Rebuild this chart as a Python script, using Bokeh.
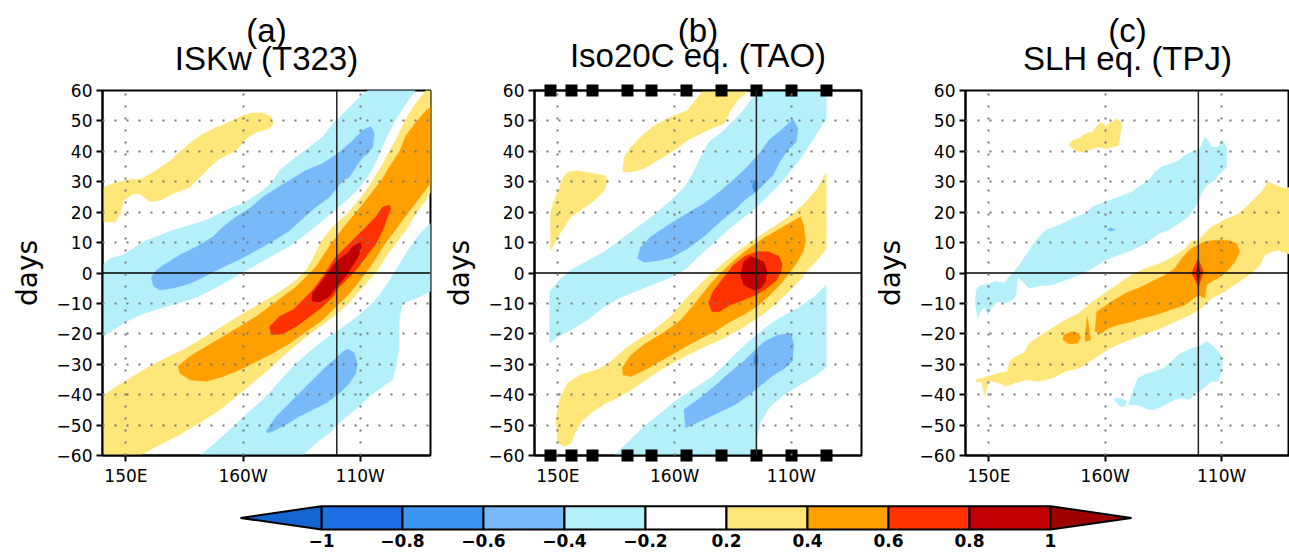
from bokeh.plotting import figure
from bokeh.layouts import row, column
from bokeh.models import Span, FixedTicker, LinearAxis, Range1d, Title
from bokeh.core.properties import value
from bokeh.embed import file_html
from bokeh.resources import INLINE

# ---------------------------------------------------------------- data
LAG_TICKS = [-60, -50, -40, -30, -20, -10, 0, 10, 20, 30, 40, 50, 60]
LON_TICKS = [150, 200, 250]
LON_LABELS = ["150E", "160W", "110W"]
CB_BOUNDS = [-1, -0.8, -0.6, -0.4, -0.2, 0.2, 0.4, 0.6, 0.8, 1]
CB_LABELS = ["\u22121", "\u22120.8", "\u22120.6", "\u22120.4", "\u22120.2", "0.2", "0.4", "0.6", "0.8", "1"]
CB_COLORS = ["#1e6ee6", "#3c96f0", "#78b9fa", "#b4f0fa", "#ffffff",
             "#ffe678", "#ffa000", "#ff3200", "#c00000"]
CB_LOW = "#1464d2"
CB_HIGH = "#a00000"
TAO_LONS = [147, 156, 165, 180, 190, 205, 220, 235, 250, 265]
LETTERS = ["(a)", "(b)", "(c)"]
TITLES = ["ISKw (T323)", "Iso20C eq. (TAO)", "SLH eq. (TPJ)"]
REF_LONS = [240, 235, 240]

# filled-contour regions (lon, lag); band index -> CB_COLORS
A_CYAN_UP = [(140,-21),(140,2.6),(143.3,4.8),(148.9,5.9),(153.2,8.1),(157.4,10.3),(163.1,11.9),(170.2,14.1),(177.3,15.7),(184.4,17.4),(191.5,20.1),(195.7,21.7),(200,22.8),(204.3,25),(208.5,27.2),(212.5,30),(215.6,33.8),(222.7,38.1),(228.4,41.4),(234,44.7),(238.3,49.1),(244,53.4),(248.2,56.7),(252.5,59.5),(253.2,60),(273.5,60),(271,57.3),(268.1,54),(264.5,49.6),(261,44.2),(258.5,39.8),(256,35.4),(252.5,31),(249,27.5),(245,24.5),(240.5,21.5),(235,18),(228,13.5),(220,9),(212,5.5),(204,2),(196,-1.5),(188,-5),(180,-8),(172,-10),(165,-11.5),(157,-13.5),(150,-16),(145,-18.5)]
A_BLUE_UP = [(161,-1.2),(161,-2.3),(162,-4.5),(164.5,-5.6),(170,-5),(177,-3.5),(184,-1),(191.5,2),(198.6,4.5),(205.7,7.5),(212.8,10.5),(219.9,14),(225.5,18),(231,21.7),(236.9,25),(240,28),(242.6,30.5),(245.4,31.6),(248.2,34.9),(251.1,38.1),(253.2,39.2),(255.3,41.4),(256,45.8),(254.6,48.2),(251.1,46.9),(246.8,43.6),(240.4,39.2),(234,36),(226.9,33.8),(219.9,30.5),(214.2,27.8),(208.5,25),(202.8,21.2),(197.2,18.5),(191.5,15.2),(187.2,11.9),(180.1,8.6),(173,5.9),(167.4,3.2),(163.1,1)]
A_CYAN_LOW = [(181.6,-60),(188,-56),(195,-51),(202,-46),(208,-42),(213,-38),(218,-33.5),(223,-29.5),(229,-25.5),(234.5,-22),(239.7,-19.5),(245,-16.5),(250,-13.5),(254.5,-10.5),(258,-7.5),(262,-3),(266,2),(270,7),(274,11.5),(277.5,14.5),(280,16.3),(280,-6),(275,-8),(268,-10),(266.7,-15),(266.5,-25),(265.2,-30.7),(263.8,-35.1),(259.6,-37.3),(253.9,-40.6),(249.6,-43.8),(242.6,-48.2),(236.9,-52.6),(231.2,-55.8),(225.5,-60)]
A_BLUE_LOW = [(209.9,-52),(214.2,-47.1),(219.9,-42.7),(225.5,-38.4),(231.2,-34),(235.5,-30.7),(239.7,-28),(242.6,-25.8),(244.7,-25),(247.5,-26.3),(248.7,-29.6),(248.2,-32.9),(245.4,-36.2),(241.1,-39.5),(235.5,-42.7),(229.8,-44.9),(224.1,-47.1),(218.4,-49.8),(212.8,-52),(210.6,-52.6)]
A_YEL_UL = [(140,16.8),(140,28),(145,29.5),(150,30.5),(157,31),(163,33.8),(169,37),(173,39.8),(177,42.5),(183,45.8),(189,48),(194,49.6),(200,51.8),(204,52.6),(208.5,52.6),(212,51.3),(212.8,49),(211,47.4),(205.7,46.3),(201.4,44.2),(198,41),(194.3,39.2),(190,37.6),(185.8,34.9),(181.6,31.6),(177.3,28.3),(170.2,26.1),(164.5,23.9),(160.3,23.4),(156,26),(153,26),(149,23.9),(147.5,19.6),(145.4,16.8)]
A_YEL_POS = [(140,-60),(140,-40.5),(146,-37.3),(153,-34),(160,-30.7),(167,-28),(174.5,-25.2),(181.6,-22),(188.7,-18.7),(195.7,-15.4),(202.8,-12.1),(209.9,-8.9),(217,-5.6),(222.7,-2.3),(227,1),(230,5),(233,10),(238,15),(245,20),(250.5,25),(255,30),(259,35),(262.5,40),(266,45),(269,50),(273,55),(277,58.9),(278,60),(280,60),(280,26.5),(278,23.9),(273.8,19.6),(269.5,14.1),(265.2,9.7),(261,5.4),(257.5,1),(253.5,-2.5),(249,-6.5),(245,-10),(240,-13.5),(233,-17.5),(226,-21.5),(219,-26),(212,-31),(205,-35.5),(198,-40),(190,-45),(181,-49.5),(172,-53.5),(163,-57),(156,-60)]
A_ORANGE = [(172.3,-30.7),(177.3,-27.4),(184.4,-24.2),(191.5,-20.9),(198.6,-17.6),(205.7,-14.3),(211.3,-11),(217,-7.8),(222.7,-4.5),(227,-1.2),(231.2,2.1),(234,5.4),(237,9),(243.5,15.5),(250,21.5),(255,26.5),(259.5,31),(263,35.5),(266.7,39.8),(269.5,45.2),(273.8,49.6),(278.1,53.4),(280,54.5),(280,29),(279.4,28.9),(276.6,26.1),(272.3,21.7),(268.1,17.4),(263.8,13),(259.6,8.6),(255.3,3.2),(251.1,-1.2),(245.4,-6.7),(239.7,-11),(234,-15.4),(227,-19.2),(219.9,-23.1),(212.8,-26.3),(205.7,-29.1),(198.6,-31.8),(191.5,-34),(184.4,-35.6),(177.3,-35.1),(173,-32.9)]
A_RED = [(211.3,-17.6),(215.6,-14.3),(221.3,-12.1),(225.5,-8.9),(229.8,-5.6),(234,-1.2),(236.9,2.1),(239.7,5.4),(244,8.6),(248.2,11.9),(252.5,15.2),(256.7,18.5),(259.6,21.7),(262.4,22.3),(263,21),(261.7,18.5),(259.6,14.1),(256.7,9.7),(252.5,5.4),(248.2,1),(244,-2.3),(241.1,-4.5),(238.3,-7.8),(234,-11),(228.4,-14.3),(222.7,-17.6),(217,-20),(212.1,-20.3)]
A_DRED = [(229.5,-6.7),(233.8,-2.5),(238,2),(240.5,4.3),(244.5,6.4),(247,8.8),(250,10),(250.5,8.6),(249.2,5.4),(246.5,2.1),(243.6,-1.2),(240,-4.5),(236.7,-7.8),(232.6,-9.6),(229.5,-9.2)]

B_YEL_UL = [(146.8,7.5),(146.8,19.6),(148.5,23.9),(150.5,28),(152.5,31.5),(154.2,33.2),(158.5,33.6),(164.2,32.9),(169.9,32.1),(171.3,30.5),(169.9,27.2),(165.6,23.9),(159.9,20.7),(155.6,18.5),(152.8,15.2),(150,11.9),(147.8,8.6)]
B_YEL_TOP = [(177.7,33.8),(178.4,38.1),(181.3,41.4),(185.5,44.7),(190.5,48),(198.3,51.3),(205.4,53.4),(211.1,58.9),(212.5,60),(231.7,60),(226.8,56.7),(223.9,53.4),(221.1,49.1),(215.4,47.4),(211.1,45.8),(205.4,43.6),(199.7,40.3),(192.6,37),(186.9,34.3),(181.3,33.2),(178.4,33.2)]
B_CYAN_UP = [(146.5,-23.1),(146.5,-6.1),(150.7,-2.3),(155.6,1),(162.8,4),(170,7),(177,11),(184,15),(191,19),(198,23.5),(204,28),(208,33),(211.1,38),(214.7,43.1),(220.3,46.3),(224.6,49.6),(228.9,52.9),(233.1,57.3),(237.4,60),(264.9,60),(264.9,50.7),(259.5,44.2),(253.8,37.5),(249.6,33.5),(245.3,29.5),(239.6,25),(233.9,21),(228.2,17.5),(222.6,14),(216.9,10),(211,6),(205,1.5),(198.3,-1.5),(191.2,-3.6),(184.1,-5.8),(177,-8),(169.9,-11),(162.8,-15.4),(155.6,-18.7),(150,-20.9)]
B_BLUE_UP = [(184.1,4.8),(187,3.5),(192.6,4),(198.3,5),(205.4,8),(212.5,12),(219.7,17),(226.8,21.5),(230.7,24.5),(235,26.7),(237.8,28.9),(242.1,32.1),(244.9,36.5),(247.8,39.8),(252,43.1),(252.8,47.4),(250.6,50.7),(246.4,47.4),(240.7,44),(236.5,39.5),(230.7,34.5),(225,30.5),(219.7,27),(212.5,22.8),(205.4,19.6),(198.3,16.3),(189.8,11.9),(185.5,8.6)]
B_DBLUE_UP = [(233.3,28.5),(234,26.8),(235.2,27),(235.6,28.8),(235,30.6),(233.8,30.3)]
B_CYAN_LOW = [(174.1,-60),(179.8,-55.8),(186.9,-50.4),(194.1,-46),(201.2,-41.6),(209.7,-37.3),(215.4,-34.5),(221.1,-30.5),(226.8,-26),(232.5,-22),(238.2,-18.5),(242.4,-16),(248.1,-13.5),(253.8,-11),(259.5,-8),(264.9,-4),(264.9,-31),(260.9,-33.4),(253.8,-36.7),(246.8,-40),(241,-43.8),(236.7,-49),(235.3,-54),(235,-60)]
B_BLUE_LOW = [(204,-44.9),(211.1,-41),(218.2,-36.5),(224,-32.5),(229.6,-29),(233.9,-25.8),(238.2,-22.7),(243.9,-20.5),(249.6,-19.8),(251,-23.4),(250.3,-29),(246.8,-31.5),(242.4,-33.5),(236.8,-37),(231.1,-40.5),(225.4,-43.5),(219.7,-45.5),(212.5,-48.2),(204.7,-50.9)]
B_DBLUE_LOW = [(233.8,-28.5),(234.5,-26.6),(235.6,-27),(235.7,-29.5),(234.8,-30.6),(234,-30)]
B_YEL_POS = [(150,-55.8),(149.2,-48.2),(150.7,-41.6),(154.2,-36.2),(159.9,-33.4),(167,-31.8),(172.7,-29.1),(178.4,-25.2),(184.1,-22),(191.2,-18.7),(198.3,-14.3),(205.4,-8),(212.5,-2.5),(219.7,2.5),(226.8,7),(233.9,11),(241,14.5),(248.1,18),(255.2,22.5),(260.9,27.5),(264.9,33),(264.9,8),(260.9,4),(257.5,1.5),(253.5,-2.5),(249,-6),(243.5,-10),(237,-14),(230,-17.5),(222,-21),(215,-23.5),(211.1,-24.8),(204,-27.5),(198.3,-30),(192.6,-32.5),(186.9,-35.5),(181.3,-38.5),(175.6,-41),(169.9,-43),(164.2,-46),(159.9,-49),(157.1,-53),(155.6,-56),(152.8,-57)]
B_ORANGE = [(177.7,-31),(181.3,-27),(186.9,-23.5),(195.5,-19.5),(202.6,-15.5),(209.7,-9),(215.4,-3.5),(221.1,1),(226.8,5),(232.5,8.5),(238.2,11.5),(243.8,14),(249.5,16.5),(253.8,18.5),(255.2,15.7),(256,10.3),(255,7),(252.5,3.7),(249.5,0.4),(245.5,-3.5),(241,-7),(236,-10.5),(230,-13.5),(222.5,-16.5),(216.8,-19.5),(211.1,-21.5),(204,-24.5),(198.3,-27),(192.6,-29.5),(186.9,-32),(181.3,-34),(178,-33.5)]
B_RED = [(214.5,-9.7),(216.5,-6),(220.5,-2),(225,2.5),(230,5.5),(235.3,7),(240,7),(244.5,5.5),(246,3),(245.5,0.5),(243.5,-2.5),(239,-5.3),(234,-7.5),(228,-9.3),(223,-10.8),(219,-12.7),(216,-12.7)]
B_DRED = [(232.5,5.4),(238.2,3.7),(239.6,0.4),(238.9,-2.8),(236.8,-5),(233.9,-5.6),(229.6,-3.9),(228.2,-0.7),(229.6,3.7)]

C_YEL_BLOB = [(184.4,42),(185.9,43.6),(188.7,44.2),(191.6,45.8),(194.4,46.3),(197.3,49.1),(198.7,49.6),(200.1,48),(201.5,49.1),(205.1,50.7),(207.2,49.3),(206.5,45.8),(205.8,42),(203,41.4),(200.1,40.9),(197.3,41.4),(194.4,40.9),(191.6,39.8),(188.7,39.8),(185.9,40.9)]
C_CYAN_UP = [(144.6,-5.6),(146,-4.3),(149.5,-3.6),(153.1,-2.8),(156.7,-3.4),(158.8,-1.2),(160.9,0.4),(163.1,2.6),(166,5.9),(168.8,9.2),(171.6,11.9),(174.5,14.1),(180.2,15.7),(185.9,17.9),(191.6,19.6),(194.4,21.7),(200.1,23.4),(205.8,25),(211.5,26.7),(214.4,28.3),(218.6,30.5),(221.5,33.2),(224.3,34.9),(228.6,36),(231.5,37),(234.3,38.7),(237.2,39.8),(240.7,40.9),(242.8,44.7),(244.3,43.6),(245.7,41.4),(248.5,41.4),(250,43.6),(251.4,42.5),(252.1,41.4),(252.1,34.9),(250,33.2),(248.5,32.1),(247.1,30.5),(245.7,29.9),(243.6,28.9),(242.1,27.2),(240.7,25),(238.6,21.7),(235.7,18.5),(231.5,16.3),(227.2,14.1),(222.9,13),(217.2,9.7),(211.5,7.5),(205.8,5.9),(200.1,4.3),(194.4,1.5),(188.7,-0.7),(183,-2.3),(177.3,-3.9),(171.6,-4.3),(167.4,-5),(163.8,-2.3),(162.4,-1.2),(161.7,-7.2),(160.2,-8.9),(156.7,-9.9),(153.8,-9.4),(151,-11.6),(149.5,-13.8),(148.1,-11),(146,-13.2),(145.3,-14.9),(144.2,-10)]
C_BLUE_DOT = [(200.8,14.3),(202.5,14.9),(204.4,14.3),(202.5,13.7)]
C_CYAN_LOW = [(209.9,-43.3),(212.8,-36.7),(214.2,-34.5),(217.1,-33.4),(221.4,-32.3),(225,-31.3),(228.5,-29.1),(231.4,-26.9),(234.2,-25.8),(237.1,-24.7),(240,-24.2),(241.4,-23.6),(243.5,-22.5),(245.6,-23.6),(248.5,-25.8),(250.6,-28),(249.9,-32.3),(248.5,-35.6),(245.6,-35.6),(241.4,-38.4),(238.5,-39.5),(236.4,-41.6),(232.8,-41.1),(230,-41.6),(227.1,-42.7),(224.2,-43.8),(221.4,-44.9),(218.5,-44.9),(215.6,-43.8),(212.8,-43.3)]
C_CYAN_BIT = [(203.5,-41.6),(205.6,-41.1),(209.2,-42),(208.5,-43.8),(206.4,-43.8)]
C_YEL_POS = [(144.6,-35.8),(144.6,-35.1),(147.4,-34.5),(154.5,-32.9),(158.1,-32.3),(158.8,-29.1),(161.7,-27.4),(165.2,-26.3),(167.4,-23.1),(171.6,-20.9),(177.3,-18.1),(183,-15.4),(188.7,-13.2),(194.4,-9.5),(200.1,-6.5),(205.8,-3.5),(211.5,-0.5),(217.2,1.5),(222.9,3),(228.5,5),(234.2,8),(237.1,10.5),(240,10.8),(242.8,13),(245.6,15.2),(251.4,17.5),(257.1,19.3),(261.4,22.3),(264.2,24.5),(267.1,26.7),(270,29.9),(272.8,28.9),(277.1,27.8),(280,28.3),(280,6),(274.2,7.5),(271.4,7),(268.5,5.9),(266.4,2.6),(262.8,-0.1),(258.5,-2.3),(254.2,-4.5),(251.4,-6.1),(248.5,-7.2),(245.6,-8.5),(241.4,-11.5),(237.1,-13.5),(231.4,-15.5),(222.8,-18.5),(215.6,-20.5),(208.5,-22.5),(201.4,-25),(194.4,-28.5),(188.7,-31.3),(183,-32.3),(177.3,-34.5),(171.6,-35.6),(165.9,-35.1),(161.7,-36),(159.5,-36.7),(157.4,-37.3),(154.5,-36.2),(151,-35.5),(149.8,-35.5),(148.3,-40.5),(146.8,-35.7)]
C_ORANGE = [(196.4,-12.7),(202.8,-9.4),(208.5,-6.7),(214.2,-5),(220,-2.8),(225.6,-0.7),(229.9,1.5),(232.8,4.8),(237.1,8.1),(239.9,9.2),(242.8,10.3),(247.1,10.8),(252.8,10.8),(256.4,9.7),(257.8,7),(255.6,3.7),(252.8,1),(250,-0.7),(248.5,-1.7),(245.6,-2.8),(243.5,-3.9),(242.8,-8.3),(240,-7.2),(234.2,-10.5),(229.9,-11.6),(225.6,-12.7),(221.4,-13.8),(215.6,-14.9),(211.4,-16),(205.6,-17),(201.4,-18.1),(198.5,-19.8),(195.6,-19.2)]
C_ORANGE_BLOB = [(182.3,-20.3),(185.9,-19.2),(188.7,-19.8),(189.4,-21.4),(188,-23.1),(184.5,-23.3),(181.9,-22)]
C_ORANGE_SPIKE = [(192.3,-14.3),(193.7,-22),(191.6,-22.5),(191.3,-20.9)]
C_RED = [(239.9,4.8),(242.1,0.4),(240.1,-4.5),(237.1,0)]
C_DRED = [(239.9,2.6),(240.9,-0.1),(239.9,-2.8),(238.9,-0.1)]

PANEL_A = [(3, A_CYAN_UP), (2, A_BLUE_UP), (3, A_CYAN_LOW), (2, A_BLUE_LOW),
           (5, A_YEL_UL), (5, A_YEL_POS), (6, A_ORANGE), (7, A_RED), (8, A_DRED)]
PANEL_B = [(5, B_YEL_UL), (5, B_YEL_TOP), (3, B_CYAN_UP), (2, B_BLUE_UP), (1, B_DBLUE_UP),
           (3, B_CYAN_LOW), (2, B_BLUE_LOW), (1, B_DBLUE_LOW),
           (5, B_YEL_POS), (6, B_ORANGE), (7, B_RED), (8, B_DRED)]
PANEL_C = [(5, C_YEL_BLOB), (3, C_CYAN_UP), (2, C_BLUE_DOT), (3, C_CYAN_LOW), (3, C_CYAN_BIT),
           (5, C_YEL_POS), (6, C_ORANGE), (6, C_ORANGE_BLOB), (6, C_ORANGE_SPIKE),
           (7, C_RED), (8, C_DRED)]

# ---------------------------------------------------------------- style
FONT = "DejaVu Sans"
TFONT = "Liberation Sans"
PX_PER_DEG = 328 / 140.0
FIG_H = 488


def lag_label(t):
    return ("\u2212%d" % -t) if t < 0 else "%d" % t


def square_axis():
    return LinearAxis(ticker=FixedTicker(ticks=TAO_LONS),
                      major_label_overrides={t: "" for t in TAO_LONS},
                      major_tick_in=6, major_tick_out=6, major_tick_line_width=12,
                      major_tick_line_color="black", major_tick_line_cap="butt",
                      minor_tick_line_color=None, minor_tick_in=0, minor_tick_out=0,
                      major_label_text_font_size="0px", major_label_standoff=0,
                      axis_line_width=2, axis_line_color="black")


def make_panel(fig_w, b_left, b_right, letter, title, regions, ref_lon, tao=False):
    frame_w = fig_w - b_left - b_right
    x_end = 140 + frame_w / PX_PER_DEG
    p = figure(width=fig_w, height=FIG_H, x_range=Range1d(140, x_end), y_range=Range1d(-60, 60),
               output_backend="svg", toolbar_location=None,
               min_border_left=b_left, min_border_right=b_right,
               min_border_top=90, min_border_bottom=32)

    xs = [[pt[0] for pt in poly] for _, poly in regions]
    ys = [[pt[1] for pt in poly] for _, poly in regions]
    cols = [CB_COLORS[b] for b, _ in regions]
    p.patches(xs, ys, fill_color=cols, line_color=cols, line_width=0.5)

    p.xgrid.ticker = FixedTicker(ticks=LON_TICKS)
    p.ygrid.ticker = FixedTicker(ticks=[t for t in LAG_TICKS if t not in (-60, 0, 60)])
    p.grid.grid_line_color = "#767676"
    p.grid.grid_line_dash = "2 10"
    p.grid.grid_line_width = 2
    p.grid.level = "overlay"

    p.add_layout(Span(location=0, dimension="width", line_color="black", line_width=1.5))
    p.add_layout(Span(location=ref_lon, dimension="height", line_color="#222222", line_width=1.5))

    p.xaxis.ticker = FixedTicker(ticks=LON_TICKS)
    p.xaxis.major_label_overrides = dict(zip(LON_TICKS, LON_LABELS))
    p.yaxis.ticker = FixedTicker(ticks=LAG_TICKS)
    p.yaxis.major_label_overrides = {t: lag_label(t) for t in LAG_TICKS}
    for ax in p.xaxis + p.yaxis:
        ax.axis_line_width = 2
        ax.axis_line_color = "black"
        ax.major_tick_line_width = 2
        ax.major_tick_out = 6
        ax.major_tick_in = 0
        ax.minor_tick_line_color = None
        ax.major_label_text_font = FONT
        ax.major_label_text_font_size = "17px"
        ax.major_label_text_color = "black"
        ax.major_label_standoff = 4
    p.yaxis.axis_label = "days"
    p.yaxis.axis_label_text_font = FONT
    p.yaxis.axis_label_text_font_size = "28px"
    p.yaxis.axis_label_text_font_style = "normal"
    p.yaxis.axis_label_text_color = "black"
    p.yaxis.axis_label_standoff = 10

    p.outline_line_color = "black"
    p.outline_line_width = 2
    p.outline_line_alpha = 1

    title_standoff = 27.5
    if tao:
        label_axis = p.below[0]
        label_axis.axis_line_color = None
        label_axis.major_tick_line_color = None
        label_axis.major_tick_out = 0
        label_axis.major_label_standoff = 4
        p.below = [square_axis(), label_axis]
        p.add_layout(square_axis(), "above")
        title_standoff = 21.5

    p.add_layout(Title(text=title, align="center", text_font=TFONT, text_font_size="33px",
                       text_font_style="normal", text_color="black", standoff=title_standoff), "above")
    p.add_layout(Title(text=letter, align="center", text_font=TFONT, text_font_size="33px",
                       text_font_style="normal", text_color="black", standoff=-51), "above")
    p.background_fill_color = "white"
    p.border_fill_color = "white"
    return p


pa = make_panel(439, 102, 9, LETTERS[0], TITLES[0], PANEL_A, REF_LONS[0])
pb = make_panel(431, 94, 9, LETTERS[1], TITLES[1], PANEL_B, REF_LONS[1], tao=True)
pc = make_panel(419, 93, 0, LETTERS[2], TITLES[2], PANEL_C, REF_LONS[2])

# ---------------------------------------------------------------- colour bar
CB_H = 66
cb = figure(width=1289, height=CB_H, x_range=Range1d(-3.963, 11.951), y_range=Range1d(0, CB_H),
            output_backend="svg", toolbar_location=None, min_border=0)
cb.xaxis.visible = False
cb.yaxis.visible = False
cb.grid.visible = False
cb.outline_line_color = None
n = len(CB_COLORS)
cb.quad(left=list(range(n)), right=list(range(1, n + 1)), bottom=25, top=48.3,
        fill_color=CB_COLORS, line_color="black", line_width=2)
cb.patches([[-1, 0, 0], [n, n + 1, n]], [[36.6, 25, 48.3], [25, 36.6, 48.3]],
           fill_color=[CB_LOW, CB_HIGH], line_color="black", line_width=2)
cb.text(x=list(range(len(CB_BOUNDS))), y=[14] * len(CB_BOUNDS), text=CB_LABELS,
        text_align="center", text_baseline="middle", text_font=value(FONT),
        text_font_size="17px", text_font_style="bold", text_color="black")

layout = column(row(pa, pb, pc), cb)
open("out.html", "w").write(file_html(layout, INLINE))
